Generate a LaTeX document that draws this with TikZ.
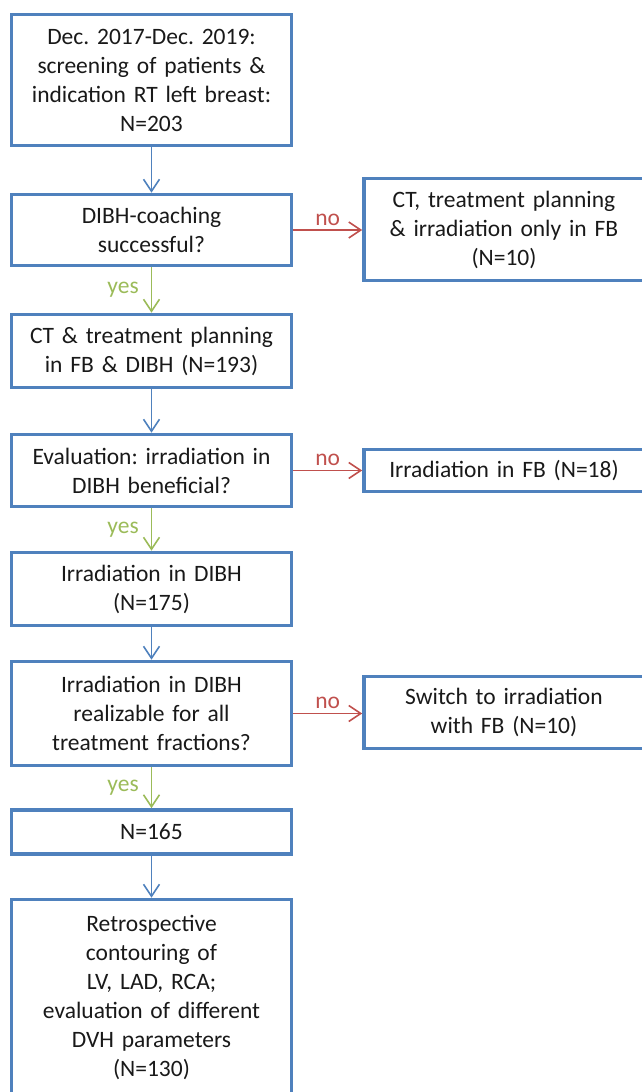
\documentclass[tikz,border=0pt]{standalone}
\usepackage{fontspec}
\setmainfont{Carlito}
\frenchspacing
\usetikzlibrary{arrows.meta}
\definecolor{boxblue}{RGB}{79,129,189}
\definecolor{nored}{RGB}{192,80,77}
\definecolor{yesgreen}{RGB}{155,187,89}
\begin{document}
\begin{tikzpicture}[x=1pt, y=1pt,
    every node/.style={font=\fontsize{23.5}{29}\selectfont, text=black!90},
    box/.style={draw=boxblue, line width=3.6pt, align=center, text width=266pt,
      inner xsep=7pt, inner ysep=0pt, minimum width=280pt},
    flow/.style={draw=boxblue, line width=1.6pt, -{Straight Barb[length=12pt, width=16pt]}},
    nope/.style={draw=nored, line width=1.6pt, -{Straight Barb[length=12pt, width=16pt]}},
    yep/.style={draw=yesgreen, line width=1.6pt, -{Straight Barb[length=12pt, width=16pt]}},
    lab/.style={inner sep=4pt}]
    \useasboundingbox (0,0) rectangle (641,-1092);
    % Nodes
    \node[box, minimum height=131pt] (screen) at (151.5,-80)
      {Dec. 2017-Dec. 2019:\\screening of patients \&\\indication RT left breast:\\N=203};
    \node[box, minimum height=71pt]  (coach)  at (151.5,-230)
      {DIBH-coaching\\successful?};
    \node[box, minimum height=73pt]  (plan)   at (151.5,-351)
      {CT \& treatment planning\\in FB \& DIBH (N=193)};
    \node[box, minimum height=72pt]  (eval)   at (151.5,-470.5)
      {Evaluation: irradiation in\\DIBH beneficial?};
    \node[box, minimum height=73pt]  (dibh)   at (151.5,-589)
      {Irradiation in DIBH\\(N=175)};
    \node[box, minimum height=104pt] (real)   at (151.5,-713.5)
      {Irradiation in DIBH\\realizable for all\\treatment fractions?};
    \node[box, minimum height=44pt]  (final)  at (151.5,-832)
      {N=165};
    \node[box, minimum height=196pt] (retro)  at (151.5,-997.5)
      {Retrospective\\contouring of\\LV, LAD, RCA;\\evaluation of different\\DVH parameters\\(N=130)};
    \node[box, minimum height=102pt] (fbonly) at (504,-229.5)
      {CT, treatment planning\\\& irradiation only in FB\\(N=10)};
    \node[box, minimum height=42pt]  (fbirr)  at (504,-470.5)
      {Irradiation in FB (N=18)};
    \node[box, minimum height=72pt]  (switch) at (504,-712.5)
      {Switch to irradiation\\with FB (N=10)};
    % Edges
    \draw[flow] (screen) -- (coach);
    \draw[yep]  (coach) -- node[left, lab, xshift=-8pt, text=yesgreen] {yes} (plan);
    \draw[flow] (plan) -- (eval);
    \draw[yep]  (eval) -- node[left, lab, xshift=-8pt, text=yesgreen] {yes} (dibh);
    \draw[flow] (dibh) -- (real);
    \draw[yep]  (real) -- node[left, lab, xshift=-8pt, text=yesgreen] {yes} (final);
    \draw[flow] (final) -- (retro);
    \draw[nope] (coach) -- node[above, lab, text=nored] {no} (coach -| fbonly.west);
    \draw[nope] (eval) -- node[above, lab, text=nored] {no} (fbirr);
    \draw[nope] (real) -- node[above, lab, text=nored] {no} (real -| switch.west);
\end{tikzpicture}
\end{document}
